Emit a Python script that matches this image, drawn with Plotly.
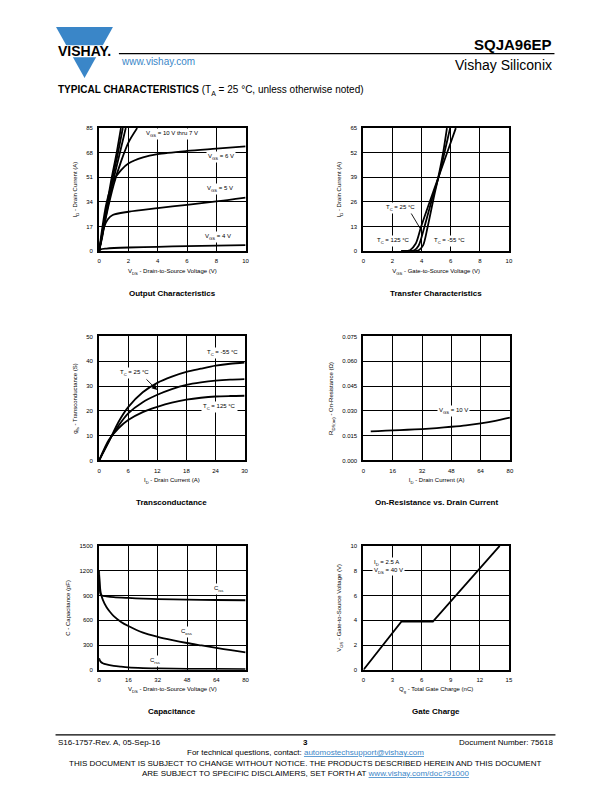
import plotly.graph_objects as go

# The page body has an 8 px margin; the figure is sized/offset so that
# reference pixel coordinates map onto the photographed window.
OFF = 8
W, H = 612 - 2 * OFF, 792 - 2 * OFF
def fx(px): return (px - OFF) / W
def fy(py): return 1 - (py - OFF) / H

FONT = "Liberation Sans, Arial, sans-serif"
BLUE = "#3a86c8"

def sb(s):
    # subscript drawn as a single styled span
    return f"<span style='font-size:70%;baseline-shift:-0.4em'>{s}</span>"

# ---------------- DATA ----------------
# Output characteristics: VDS (V) vs ID (A)
oc_vgs10_vds = [0, 0.4, 0.81, 1.2, 1.49]
oc_vgs10_id = [0, 24, 48, 68, 85]
oc_vgs9_vds = [0, 0.43, 0.87, 1.29, 1.62]
oc_vgs9_id = [0, 24, 48, 68, 85]
oc_vgs8_vds = [0, 0.46, 0.95, 1.42, 1.82]
oc_vgs8_id = [0, 24, 48, 68, 85]
oc_vgs7_vds = [0, 0.5, 1.0, 1.5, 2.0, 2.6]
oc_vgs7_id = [0, 25, 46, 62, 75, 85]
oc_vgs6_vds = [0, 0.5, 1, 1.5, 2, 3, 4, 6, 8, 10]
oc_vgs6_id = [0, 33, 49, 56, 60.5, 64.7, 67, 69.2, 70.8, 72.4]
oc_vgs5_vds = [0, 0.2, 0.36, 0.6, 0.93, 2, 4, 6, 8, 10]
oc_vgs5_id = [0, 9, 17, 22, 25, 27.2, 29.7, 32, 34.3, 37]
oc_vgs4_vds = [0, 0.1, 0.5, 2, 4, 6, 8, 10]
oc_vgs4_id = [0, 1.2, 1.8, 2.5, 3, 3.5, 3.8, 4.1]

# Transfer characteristics: VGS (V) vs ID (A)
tc_m55_vgs = [2.6, 3.4, 3.8, 4.1, 4.42, 4.8, 5.2, 5.5, 5.74]
tc_m55_id = [0, 0, 0.5, 3, 13, 27, 41, 53, 65]
tc_25_vgs = [2.6, 3.0, 3.5, 3.8, 4.2, 4.7, 5.2, 5.6, 5.96]
tc_25_id = [0, 0, 0.5, 3, 13, 27, 40, 53, 65]
tc_125_vgs = [2.6, 3.2, 3.6, 3.97, 4.6, 5.2, 5.8, 6.35]
tc_125_id = [0, 0.5, 4, 13, 27, 40, 53, 65]

# Transconductance: ID (A) vs gfs (S)
gfs_id = [0, 2, 4, 6, 9, 12, 15, 18, 21, 24, 27, 30]
gfs_m55 = [0, 7.5, 15.5, 21.5, 27.5, 31.3, 33.8, 35.7, 37, 38.2, 39, 39.5]
gfs_25 = [0, 7.8, 14, 19, 23.5, 26.5, 28.8, 30.5, 31.5, 32.2, 32.6, 32.8]
gfs_125 = [0, 8.3, 13, 16.3, 19.5, 21.6, 23.3, 24.5, 25.3, 25.8, 26, 26.1]

# On-resistance vs drain current
rds_id = [4, 8, 16, 24, 32, 40, 48, 56, 64, 72, 80]
rds_val = [0.0176, 0.0178, 0.0182, 0.0186, 0.019, 0.0196, 0.0204, 0.0213, 0.0225, 0.024, 0.0259]

# Capacitance: VDS (V) vs C (pF)
ciss_vds = [0, 0.3, 0.7, 1.5, 4, 8, 16, 24, 32, 48, 64, 80]
ciss_c = [1200, 1000, 920, 900, 890, 880, 870, 862, 856, 850, 845, 842]
coss_vds = [0, 0.5, 1, 2, 4, 6, 8, 12, 16, 24, 32, 40, 48, 56, 64, 72, 80]
coss_c = [1150, 1000, 920, 850, 760, 700, 650, 580, 530, 450, 400, 360, 325, 295, 265, 238, 212]
crss_vds = [0, 0.5, 1, 2, 4, 8, 12, 16, 24, 32, 48, 64, 80]
crss_c = [140, 110, 95, 80, 65, 48, 38, 30, 22, 17, 13, 11, 10]

# Gate charge: Qg (nC) vs VGS (V)
qg_nc = [0, 3.93, 7.16, 14.05]
qg_vgs = [0, 3.9, 3.9, 10]

# Tick values
t1x = [0, 2, 4, 6, 8, 10]; t1y = [0, 17, 34, 51, 68, 85]
t2x = [0, 2, 4, 6, 8, 10]; t2y = [0, 13, 26, 39, 52, 65]
t3x = [0, 6, 12, 18, 24, 30]; t3y = [0, 10, 20, 30, 40, 50]
t4x = [0, 16, 32, 48, 64, 80]; t4y = [0, 0.015, 0.030, 0.045, 0.060, 0.075]
t5x = [0, 16, 32, 48, 64, 80]; t5y = [0, 300, 600, 900, 1200, 1500]
t6x = [0, 3, 6, 9, 12, 15]; t6y = [0, 2, 4, 6, 8, 10]

# ---------------- FIGURE ----------------
fig = go.Figure()
LW = 1.8

def add(x, y, n, name):
    xa = "x" if n == 1 else f"x{n}"
    ya = "y" if n == 1 else f"y{n}"
    fig.add_trace(go.Scatter(x=x, y=y, mode="lines", name=name, xaxis=xa, yaxis=ya,
                             line=dict(color="black", width=LW, shape="spline", smoothing=0.8),
                             hoverinfo="skip", showlegend=False))

add(oc_vgs10_vds, oc_vgs10_id, 1, "VGS=10V")
add(oc_vgs9_vds, oc_vgs9_id, 1, "VGS=9V")
add(oc_vgs8_vds, oc_vgs8_id, 1, "VGS=8V")
add(oc_vgs7_vds, oc_vgs7_id, 1, "VGS=7V")
add(oc_vgs6_vds, oc_vgs6_id, 1, "VGS=6V")
add(oc_vgs5_vds, oc_vgs5_id, 1, "VGS=5V")
add(oc_vgs4_vds, oc_vgs4_id, 1, "VGS=4V")

add(tc_m55_vgs, tc_m55_id, 2, "TC=-55")
add(tc_25_vgs, tc_25_id, 2, "TC=25")
add(tc_125_vgs, tc_125_id, 2, "TC=125")

add(gfs_id, gfs_m55, 3, "TC=-55")
add(gfs_id, gfs_25, 3, "TC=25")
add(gfs_id, gfs_125, 3, "TC=125")

add(rds_id, rds_val, 4, "VGS=10V")

add(ciss_vds, ciss_c, 5, "Ciss")
add(coss_vds, coss_c, 5, "Coss")
add(crss_vds, crss_c, 5, "Crss")

fig.add_trace(go.Scatter(x=qg_nc, y=qg_vgs, mode="lines", name="Gate charge", xaxis="x6", yaxis="y6",
                         line=dict(color="black", width=LW), hoverinfo="skip", showlegend=False))

boxes = {
    1: (98, 246, 126, 250),
    2: (365, 512, 126, 250),
    3: (98, 245, 336, 461),
    4: (365, 513, 336, 461),
    5: (98, 246, 547, 672),
    6: (365, 512, 547, 672),
}
specs = {
    1: (t1x, t1y, f"V{sb('DS')} - Drain-to-Source Voltage (V)", f"I{sb('D')} - Drain Current (A)", None),
    2: (t2x, t2y, f"V{sb('GS')} - Gate-to-Source Voltage (V)", f"I{sb('D')} - Drain Current (A)", None),
    3: (t3x, t3y, f"I{sb('D')} - Drain Current (A)", f"g{sb('fs')} - Transconductance (S)", None),
    4: (t4x, t4y, f"I{sb('D')} - Drain Current (A)", f"R{sb('DS(on)')} - On-Resistance (Ω)", ".3f"),
    5: (t5x, t5y, f"V{sb('DS')} - Drain-to-Source Voltage (V)", "C - Capacitance (pF)", None),
    6: (t6x, t6y, f"Q{sb('g')} - Total Gate Charge (nC)", f"V{sb('GS')} - Gate-to-Source Voltage (V)", None),
}
titles = {1: "Output Characteristics", 2: "Transfer Characteristics", 3: "Transconductance",
          4: "On-Resistance vs. Drain Current", 5: "Capacitance", 6: "Gate Charge"}
title_y = {1: 293, 2: 293, 3: 503, 4: 503, 5: 714, 6: 714}

TF = dict(size=6, color="black", family=FONT)
layout_axes = {}
for n, (x0, x1, y0, y1) in boxes.items():
    tx, ty, xt, yt, fmt = specs[n]
    common = dict(showline=True, linecolor="black", linewidth=2, mirror=True,
                  showgrid=True, gridcolor="black", gridwidth=1.3, zeroline=False,
                  ticks="outside", ticklen=3, tickcolor="rgba(0,0,0,0)",
                  tickfont=dict(size=6, color="black", family=FONT), fixedrange=True)
    xa = dict(common, domain=[fx(x0), fx(x1)], range=[tx[0], tx[-1]], tickvals=tx,
              anchor="y" if n == 1 else f"y{n}",
              title=dict(text=xt, font=TF, standoff=5))
    ya = dict(common, domain=[fy(y1), fy(y0)], range=[ty[0], ty[-1]], tickvals=ty,
              anchor="x" if n == 1 else f"x{n}",
              title=dict(text=yt, font=TF, standoff=8))
    if fmt:
        ya["tickformat"] = fmt
    layout_axes["xaxis" if n == 1 else f"xaxis{n}"] = xa
    layout_axes["yaxis" if n == 1 else f"yaxis{n}"] = ya

fig.update_layout(width=W, height=H, margin=dict(l=0, r=0, t=0, b=0),
                  paper_bgcolor="white", plot_bgcolor="white",
                  font=dict(family=FONT, color="black"), showlegend=False, **layout_axes)

ann = []
def note(text, x, y, n, xanchor="center", align="center"):
    ann.append(dict(text=text, x=x, y=y, xref="x" if n == 1 else f"x{n}", yref="y" if n == 1 else f"y{n}",
                    showarrow=False, xanchor=xanchor, yanchor="middle", align=align,
                    bgcolor="white", borderpad=1, font=dict(size=6, color="black", family=FONT)))

note(f"V{sb('GS')} = 10 V thru 7 V", 3.05, 81, 1, xanchor="left")
note(f"V{sb('GS')} = 6 V", 8.3, 65.1, 1)
note(f"V{sb('GS')} = 5 V", 8.25, 43.2, 1)
note(f"V{sb('GS')} = 4 V", 8.1, 9.6, 1)
note(f"T{sb('C')} = 25 °C", 2.58, 23, 2)
note(f"T{sb('C')} = 125 °C", 2.07, 5.2, 2)
note(f"T{sb('C')} = -55 °C", 5.95, 5.2, 2)
note(f"T{sb('C')} = -55 °C", 25.5, 43.3, 3)
note(f"T{sb('C')} = 25 °C", 7.2, 35.3, 3)
note(f"T{sb('C')} = 125 °C", 24.9, 21.7, 3)
note(f"V{sb('GS')} = 10 V", 49.2, 0.030, 4)
note(f"C{sb('iss')}", 65.4, 984, 5)
note(f"C{sb('oss')}", 47.6, 456, 5)
note(f"C{sb('rss')}", 30.3, 108, 5)
note(f"I{sb('D')} = 2.5 A<br>V{sb('DS')} = 40 V", 0.9, 8.36, 6, xanchor="left", align="left")

# arrow in transconductance plot
ann.append(dict(text=" ", x=11.97, y=28.4, ax=9.25, ay=33.7, xref="x3", yref="y3", axref="x3", ayref="y3",
                showarrow=True, arrowhead=2, arrowsize=1.2, arrowwidth=0.9, arrowcolor="black",
                font=dict(size=6)))

for n, (x0, x1, y0, y1) in boxes.items():
    ann.append(dict(text=f"<b>{titles[n]}</b>", x=fx((x0 + x1) / 2), y=fy(title_y[n]), xref="paper", yref="paper",
                    showarrow=False, xanchor="center", yanchor="middle",
                    font=dict(size=8, color="black", family=FONT)))

def ptext(text, px, py, size, xanchor="left", bold=False, color="black"):
    ann.append(dict(text=(f"<b>{text}</b>" if bold else text), x=fx(px), y=fy(py), xref="paper", yref="paper",
                    showarrow=False, xanchor=xanchor, yanchor="middle",
                    font=dict(size=size, color=color, family=FONT)))

# header
ptext("SQJA96EP", 558, 42, 15, xanchor="right", bold=True)
ptext("Vishay Siliconix", 558, 62, 14, xanchor="right")
ptext("www.vishay.com", 118, 59, 10, color=BLUE)
ptext("VISHAY.", 83, 48.5, 14, xanchor="center", bold=True)
ptext(f"<b>TYPICAL CHARACTERISTICS</b> (T{sb('A')} = 25 °C, unless otherwise noted)", 54, 88, 10)

# footer
ptext("S16-1757-Rev. A, 05-Sep-16", 54, 745, 8)
ptext("3", 306, 745, 8, xanchor="center", bold=True)
ptext("Document Number: 75618", 559, 745, 8, xanchor="right")
ptext("For technical questions, contact: <span style='color:%s'><u>automostechsupport@vishay.com</u></span>" % BLUE,
      307, 755.5, 8, xanchor="center")
ptext("THIS DOCUMENT IS SUBJECT TO CHANGE WITHOUT NOTICE. THE PRODUCTS DESCRIBED HEREIN AND THIS DOCUMENT",
      306, 766.5, 8, xanchor="center")
ptext("ARE SUBJECT TO SPECIFIC DISCLAIMERS, SET FORTH AT <span style='color:%s'><u>www.vishay.com/doc?91000</u></span>" % BLUE,
      306, 776, 8, xanchor="center")

fig.update_layout(annotations=ann)

def ppath(pts):
    return "M " + " L ".join(f"{fx(a):.5f},{fy(b):.5f}" for a, b in pts) + " Z"

shapes = [
    # logo triangle
    dict(type="path", xref="paper", yref="paper", path=ppath([(54.5, 24), (112, 24), (83.3, 75.5)]),
         fillcolor=BLUE, line=dict(width=0), layer="below"),
    dict(type="rect", xref="paper", yref="paper", x0=fx(50), x1=fx(116), y0=fy(54.5), y1=fy(42.5),
         fillcolor="white", line=dict(width=0), layer="below"),
    # header rule
    dict(type="line", xref="paper", yref="paper", x0=fx(118), x1=fx(558), y0=fy(51), y1=fy(51),
         line=dict(color="black", width=1.2)),
    # footer rule
    dict(type="line", xref="paper", yref="paper", x0=fx(54), x1=fx(559), y0=fy(737.5), y1=fy(737.5),
         line=dict(color="black", width=1.2)),
    # pointer line in transfer characteristics
    dict(type="line", xref="x2", yref="y2", x0=3.2, y0=21, x1=3.9, y1=12, line=dict(color="black", width=0.9)),
]
fig.update_layout(shapes=shapes)

fig.write_html("out.html")
